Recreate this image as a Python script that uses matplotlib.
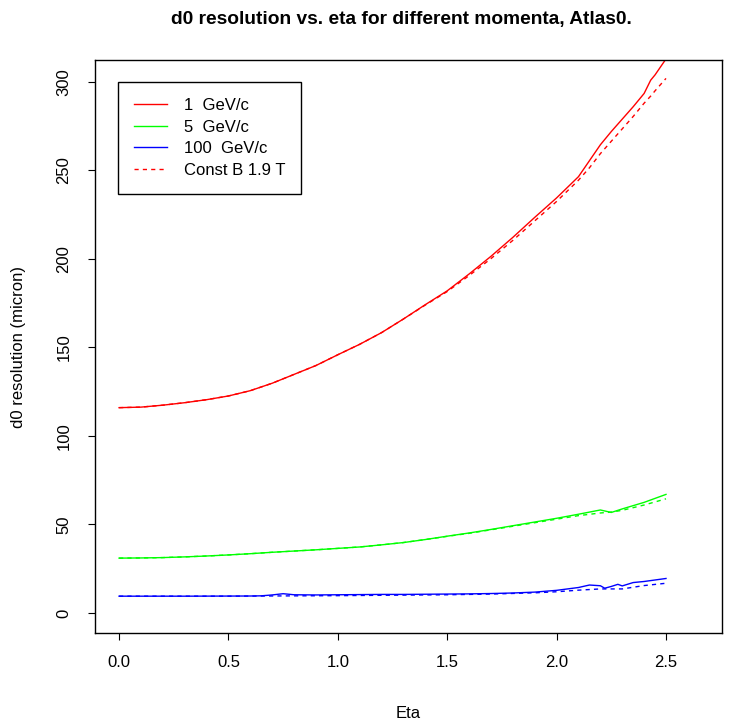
import matplotlib
matplotlib.use('Agg')
import matplotlib.pyplot as plt

plt.rcParams['font.family'] = ['Liberation Sans', 'DejaVu Sans']

# --- adatok ---
eta_r = [0.0, 0.1, 0.2, 0.3, 0.4, 0.5, 0.6, 0.7, 0.8, 0.9, 1.0, 1.1, 1.2,
         1.3, 1.4, 1.5, 1.6, 1.7, 1.8, 1.9, 2.0, 2.1, 2.15, 2.2, 2.25, 2.3,
         2.35, 2.4, 2.43, 2.45, 2.5]
red_solid = [116.0, 116.3, 117.4, 118.8, 120.5, 122.6, 125.6, 129.8, 134.8,
             139.8, 145.9, 151.8, 158.4, 166.1, 174.2, 182.0, 191.5, 201.5,
             212.2, 223.5, 234.5, 246.5, 255.5, 264.5, 272.0, 279.0, 286.0,
             293.5, 301.0, 304.0, 313.0]
red_dash = [116.0, 116.3, 117.4, 118.8, 120.5, 122.6, 125.6, 129.8, 134.8,
            139.8, 145.9, 151.8, 158.4, 166.1, 174.0, 181.6, 190.6, 200.2,
            210.5, 221.5, 232.5, 244.5, 251.5, 259.5, 266.5, 273.5, 280.5,
            288.0, 292.0, 295.0, 302.0]

eta_g = [0.0, 0.1, 0.2, 0.3, 0.4, 0.5, 0.6, 0.7, 0.8, 0.9, 1.0, 1.1, 1.2,
         1.3, 1.4, 1.5, 1.6, 1.7, 1.8, 1.9, 2.0, 2.1, 2.2, 2.25, 2.3, 2.4, 2.5]
green_solid = [31.0, 31.1, 31.3, 31.7, 32.2, 32.8, 33.5, 34.3, 35.0, 35.7,
               36.5, 37.3, 38.5, 39.8, 41.5, 43.4, 45.2, 47.2, 49.3, 51.4,
               53.5, 55.8, 58.2, 56.8, 58.8, 62.5, 67.0]
green_dash = [31.0, 31.1, 31.3, 31.7, 32.2, 32.8, 33.5, 34.3, 35.0, 35.7,
              36.5, 37.3, 38.5, 39.8, 41.5, 43.3, 45.0, 47.0, 49.0, 51.0,
              53.0, 55.0, 56.5, 57.0, 58.0, 61.0, 64.5]

eta_b = [0.0, 0.3, 0.6, 0.65, 0.7, 0.75, 0.8, 0.9, 1.0, 1.1, 1.2, 1.3, 1.4,
         1.5, 1.6, 1.7, 1.8, 1.9, 2.0, 2.1, 2.15, 2.2, 2.22, 2.25, 2.28,
         2.3, 2.35, 2.4, 2.5]
blue_solid = [9.5, 9.5, 9.6, 9.7, 10.2, 10.9, 10.3, 10.2, 10.3, 10.4, 10.5,
              10.5, 10.6, 10.7, 10.8, 11.0, 11.3, 11.8, 12.8, 14.4, 15.8,
              15.4, 14.0, 15.0, 16.2, 15.3, 17.2, 17.8, 19.5]
eta_bd = [0.0, 0.5, 1.0, 1.5, 1.7, 1.9, 2.0, 2.1, 2.2, 2.3, 2.4, 2.5]
blue_dash = [9.5, 9.5, 9.8, 10.3, 10.7, 11.4, 12.0, 12.9, 13.6, 13.6, 15.5, 16.8]

labels = ['1  GeV/c', '5  GeV/c', '100  GeV/c', 'Const B 1.9 T']

fig = plt.figure(figsize=(7.36, 7.26), dpi=100)
ax = fig.add_axes([95/736, 1 - 633/726, 627/736, 573/726])

l1, = ax.plot(eta_r, red_solid, color='#ff0000', lw=1.0)
ax.plot(eta_r, red_dash, color='#ff0000', lw=1.0, dashes=(3, 3))
l2, = ax.plot(eta_g, green_solid, color='#00ff00', lw=1.0)
ax.plot(eta_g, green_dash, color='#00ff00', lw=1.0, dashes=(3, 3))
l3, = ax.plot(eta_b, blue_solid, color='#0000ff', lw=1.0)
ax.plot(eta_bd, blue_dash, color='#0000ff', lw=1.0, dashes=(3, 3))
l4, = ax.plot([], [], color='#ff0000', lw=1.0, dashes=(3, 3))

ax.set_xlim(-0.110, 2.756)
ax.set_ylim(-11.3, 312.4)
ax.set_xticks([0.0, 0.5, 1.0, 1.5, 2.0, 2.5])
ax.set_xticklabels(['0.0', '0.5', '1.0', '1.5', '2.0', '2.5'])
ax.set_yticks([0, 50, 100, 150, 200, 250, 300])

for s in ax.spines.values():
    s.set_linewidth(1.0)
    s.set_color('black')
ax.tick_params(direction='out', length=5, width=0.8, labelsize=12, colors='black')
ax.tick_params(axis='x', pad=11)
ax.tick_params(axis='y', pad=12)
plt.setp(ax.get_yticklabels(), rotation=90, va='center')

ax.set_xlabel('Eta', fontsize=12, labelpad=26)
ax.set_ylabel('d0 resolution (micron)', fontsize=12, labelpad=22)
ax.set_title('d0 resolution vs. eta for different momenta, Atlas0.',
             fontsize=13.8, fontweight='bold', pad=26, x=0.489)

leg = ax.legend([l1, l2, l3, l4], labels, loc='upper left',
                bbox_to_anchor=(0.0367, 0.9616), fontsize=12, frameon=True,
                fancybox=False, edgecolor='black', framealpha=1,
                handlelength=2.0, handletextpad=1.0, borderpad=0.95,
                labelspacing=0.4, borderaxespad=0)
leg.get_frame().set_linewidth(1.0)

fig.savefig('out.png', dpi=100)
